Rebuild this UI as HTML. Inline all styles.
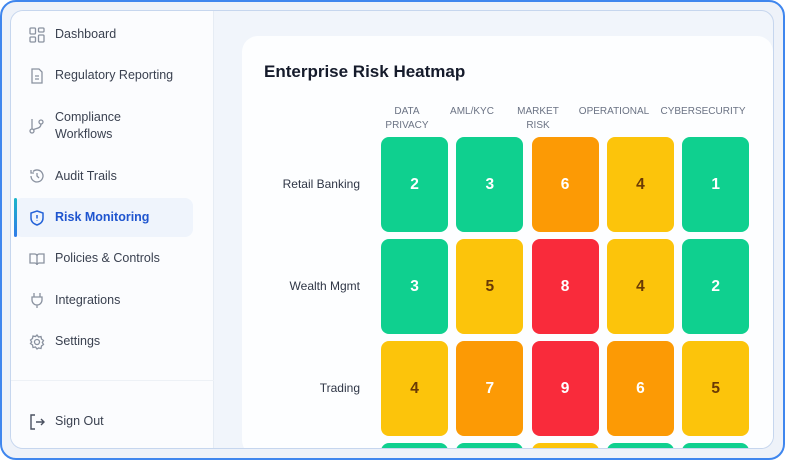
<!DOCTYPE html>
<html><head><meta charset="utf-8"><style>
*{box-sizing:border-box;margin:0;padding:0}
body{width:785px;height:460px;overflow:hidden;background:#fff;font-family:"Liberation Sans",sans-serif}
#frame{position:absolute;left:0;top:0;width:785px;height:460px;border:2px solid #3f86ee;border-radius:16px;background:#eef2f9;overflow:hidden}
#inner{position:absolute;left:8px;top:8px;width:764px;height:439px;border:1px solid #c6d6ee;border-radius:13px;overflow:hidden;background:#f1f5fb}
#side{position:absolute;left:0;top:0;width:203px;height:100%;background:#fbfcfe;border-right:1px solid #e6ecf4}
.nav{position:absolute;left:44px;font-size:12.5px;color:#3a4150;line-height:17px}
.ico{position:absolute;left:18px;width:16px;height:16px}
#active{position:absolute;left:3px;top:187px;width:179px;height:39px;background:#eff4fc;border-radius:8px}
#bar{position:absolute;left:3px;top:187px;width:3px;height:39px;background:linear-gradient(#1bb5c9,#2f7be8);border-radius:2px}
#card{position:absolute;left:231px;top:25px;width:531px;height:420px;background:#fdfeff;border-radius:16px}
#title{position:absolute;left:22px;top:26px;font-size:17px;font-weight:bold;color:#151b2b}
.colh{position:absolute;width:90px;text-align:center;font-size:10px;color:#6b7384;line-height:14px;white-space:nowrap}
.rowh{position:absolute;width:130px;text-align:right;font-size:12px;color:#2f3646}
.cell{position:absolute;border-radius:8px;display:flex;align-items:center;justify-content:center;font-weight:bold;font-size:15.5px}
</style></head><body>
<div id="frame">
<div id="inner">
<div id="side">
 <div id="active"></div>
 <div id="bar"></div>
 <svg class="ico" style="top:16px" viewBox="0 0 16 16"><g fill="none" stroke="#8a92a0" stroke-width="1.3"><rect x="1" y="1" width="5.5" height="6" rx="1"/><rect x="9.5" y="1" width="5.5" height="4" rx="1"/><rect x="1" y="10" width="5.5" height="5" rx="1"/><rect x="9.5" y="8" width="5.5" height="7" rx="1"/></g></svg>
 <div class="nav" style="top:15px">Dashboard</div>
 <svg class="ico" style="top:57px" viewBox="0 0 16 16"><g fill="none" stroke="#8a92a0" stroke-width="1.3"><path d="M3 1h7l3 3v11H3z"/><path d="M6 8h4M6 11h4"/></g></svg>
 <div class="nav" style="top:56px">Regulatory Reporting</div>
 <svg class="ico" style="top:107px" viewBox="0 0 16 16"><g fill="none" stroke="#8a92a0" stroke-width="1.3"><circle cx="3" cy="13" r="2"/><circle cx="12" cy="4" r="2"/><path d="M3 1v10M12 6c0 5-6 4-8 6"/></g></svg>
 <div class="nav" style="top:98px">Compliance<br>Workflows</div>
 <svg class="ico" style="top:157px" viewBox="0 0 16 16"><g fill="none" stroke="#8a92a0" stroke-width="1.3"><path d="M2 8a6 6 0 1 0 2-4.5M2 2v3h3M8 5v3l2 2"/></g></svg>
 <div class="nav" style="top:157px">Audit Trails</div>
 <svg class="ico" style="top:199px" viewBox="0 0 16 16"><g fill="none" stroke="#2563d8" stroke-width="1.5"><path d="M8 1l6 2v5c0 4-3 6-6 7-3-1-6-3-6-7V3z"/><path d="M8 5v3.5M8 10.5v.5"/></g></svg>
 <div class="nav" style="top:198px;color:#1f55cf;font-weight:bold">Risk Monitoring</div>
 <svg class="ico" style="top:240px" viewBox="0 0 16 16"><g fill="none" stroke="#8a92a0" stroke-width="1.3"><path d="M1 3h5c1 0 2 1 2 2v9c0-1-1-2-2-2H1zM15 3h-5c-1 0-2 1-2 2v9c0-1 1-2 2-2h5z"/></g></svg>
 <div class="nav" style="top:239px">Policies &amp; Controls</div>
 <svg class="ico" style="top:281px" viewBox="0 0 16 16"><g fill="none" stroke="#8a92a0" stroke-width="1.3"><path d="M5 1v4M11 1v4M3 5h10v3a5 5 0 0 1-10 0zM8 13v3"/></g></svg>
 <div class="nav" style="top:281px">Integrations</div>
 <svg class="ico" style="top:323px" viewBox="0 0 16 16"><g fill="none" stroke="#8a92a0" stroke-width="1.3"><circle cx="8" cy="8" r="2.5"/><path d="M8 1l1.5 2 2.5-.5.5 2.5 2 1.5-1.2 2 1.2 2-2 1.5-.5 2.5-2.5-.5L8 15l-1.5-2-2.5.5-.5-2.5-2-1.5L2.7 8 1.5 6l2-1.5.5-2.5 2.5.5z"/></g></svg>
 <div class="nav" style="top:322px">Settings</div>
 <div style="position:absolute;left:0;top:369px;width:203px;height:1px;background:#edf1f6"></div>
 <svg class="ico" style="top:403px" viewBox="0 0 16 16"><g fill="none" stroke="#4a5160" stroke-width="1.4"><path d="M6 1H2v14h4M7 8h8M12 5l3 3-3 3"/></g></svg>
 <div class="nav" style="top:402px">Sign Out</div>
</div>
<div id="card">
 <div id="title">Enterprise Risk Heatmap</div>
</div>
</div></div>
<script>
const categories=["DATA<br>PRIVACY","AML/KYC","MARKET<br>RISK","OPERATIONAL","CYBERSECURITY"];
const rows=["Retail Banking","Wealth Mgmt","Trading","Insurance"];
const values=[[2,3,6,4,1],[3,5,8,4,2],[4,7,9,6,5],[2,2,4,2,2]];
const card=document.getElementById('card');
const X0=139,CW=67,CG=8.3,Y0=101,RH=95,RG=7;
const HEAD_CENTERS=[165,230,296,372,461];
function colX(i){return X0+i*(CW+CG);}
function rowY(j){return Y0+j*(RH+RG);}
function color(v){if(v<=3)return['#0fd08f','#fff'];if(v<=5)return['#fcc40b','#6a3a05'];if(v<=7)return['#fc9a05','#fff'];return['#f92b3b','#fff'];}
categories.forEach((c,i)=>{const d=document.createElement('div');d.className='colh';


d.style.left=(HEAD_CENTERS[i]-45)+'px';d.style.top='69px';d.innerHTML=c;card.appendChild(d);});
rows.forEach((r,j)=>{const l=document.createElement('div');l.className='rowh';


l.style.left='-12px';l.style.top=(rowY(j)+RH/2-8)+'px';l.textContent=r;card.appendChild(l);
values[j].forEach((v,i)=>{const c=document.createElement('div');c.className='cell';


const [bg,fg]=color(v);c.style.background=bg;c.style.color=fg;
c.style.left=colX(i)+'px';c.style.top=rowY(j)+'px';c.style.width=CW+'px';c.style.height=RH+'px';c.textContent=v;card.appendChild(c);});});
</script>
</body></html>
